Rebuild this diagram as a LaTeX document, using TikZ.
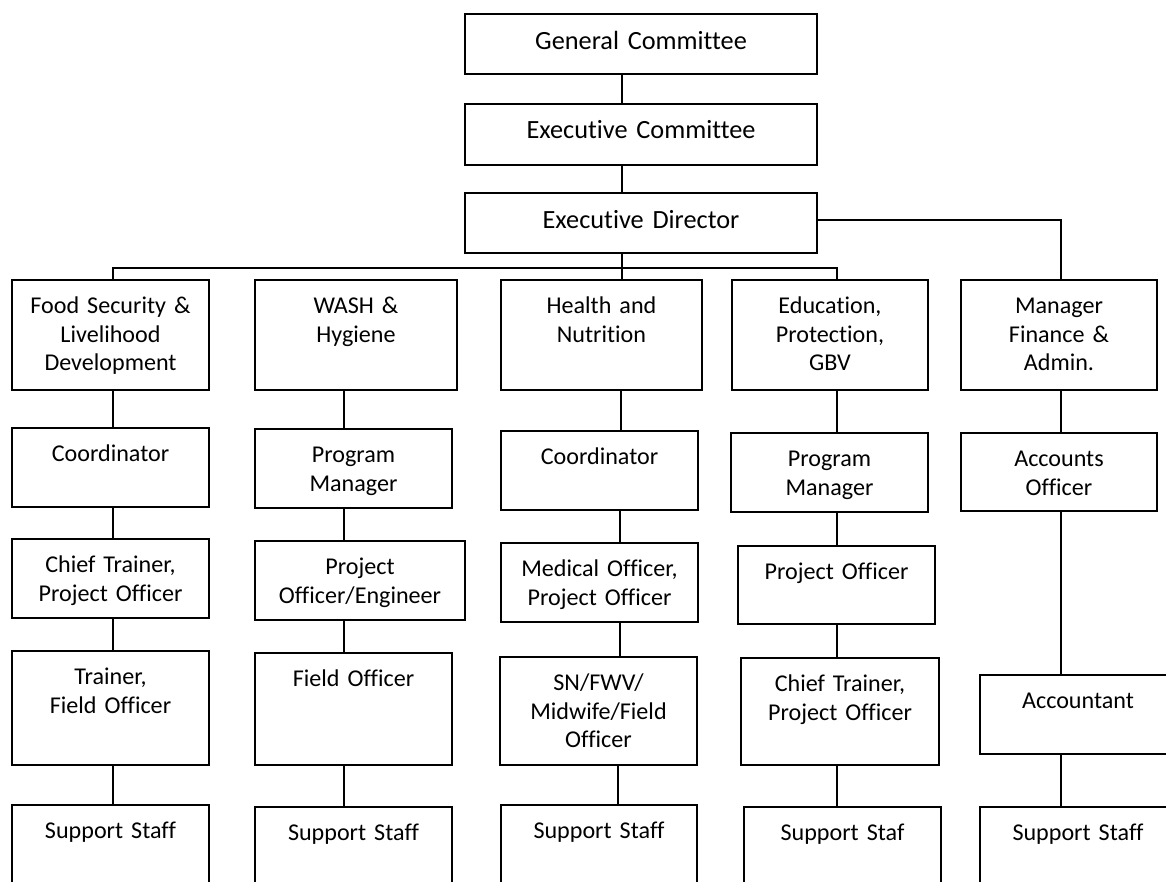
\documentclass[tikz,border=0pt]{standalone}
\usepackage{fontspec}
\setmainfont{Carlito}[Ligatures=NoCommon]
\begin{document}
\begin{tikzpicture}[x=1pt,y=-1pt,
  orgbox/.style={draw, line width=1.6pt, inner sep=0pt, anchor=north, align=center,
    text height=34pt, font=\fontsize{24.1}{28.3}\selectfont},
  topbox/.style={orgbox, text width=352pt, text height=36pt, text depth=24pt,
    font=\fontsize{26.3}{28.3}\selectfont},
  link/.style={line width=1.6pt}]
\useasboundingbox (0,0) rectangle (1166,882);
\clip (0,0) rectangle (1166,882);
% top chain
\node[topbox] (gc) at (641,13) {General Committee};
\node[topbox, text height=35pt, text depth=26pt] (ec) at (641,103) {Executive Committee};
\node[topbox] (ed) at (641,192) {Executive Director};
% column 1
\node[orgbox, text width=197pt, text depth=76pt] (fs) at (110.5,279) {Food Security \&\\Livelihood\\Development};
\node[orgbox, text width=197pt, text depth=45pt] (co1) at (110.5,427) {Coordinator};
\node[orgbox, text width=197pt, text depth=45pt] (ct1) at (110.5,538) {Chief Trainer,\\Project Officer};
\node[orgbox, text width=197pt, text depth=80pt] (tf1) at (110.5,650) {Trainer,\\Field Officer};
\node[orgbox, text width=197pt, text depth=80pt] (ss1) at (110.5,804) {Support Staff};
% column 2
\node[orgbox, text width=202pt, text depth=76pt] (wash) at (356,279) {WASH \&\\Hygiene};
\node[orgbox, text width=197pt, text depth=45pt] (pm2) at (353.5,428) {Program\\Manager};
\node[orgbox, text width=210pt, text depth=45pt] (poe) at (360,540) {Project\\Officer/Engineer};
\node[orgbox, text width=197pt, text depth=78pt] (fo2) at (353.5,652) {Field Officer};
\node[orgbox, text width=197pt, text depth=80pt] (ss2) at (353.5,806) {Support Staff};
% column 3
\node[orgbox, text width=201pt, text depth=76pt] (hn) at (601.5,279) {Health and\\Nutrition};
\node[orgbox, text width=197pt, text depth=45pt] (co3) at (599.5,430) {Coordinator};
\node[orgbox, text width=197pt, text depth=45pt] (mo3) at (599.5,542) {Medical Officer,\\Project Officer};
\node[orgbox, text width=197pt, text depth=74pt] (sn3) at (598.5,656) {SN/FWV/\\Midwife/Field\\Officer};
\node[orgbox, text width=196pt, text depth=80pt] (ss3) at (599,804) {Support Staff};
% column 4
\node[orgbox, text width=196pt, text depth=76pt] (epg) at (830,279) {Education,\\Protection,\\GBV};
\node[orgbox, text width=197pt, text depth=45pt] (pm4) at (829.5,432) {Program\\Manager};
\node[orgbox, text width=197pt, text depth=44pt] (po4) at (836.5,545) {Project Officer};
\node[orgbox, text width=198pt, text depth=73pt] (ct4) at (840,657) {Chief Trainer,\\Project Officer};
\node[orgbox, text width=197pt, text depth=80pt] (ss4) at (842.5,806) {Support Staf};
% column 5
\node[orgbox, text width=196pt, text depth=76pt] (mf) at (1059,279) {Manager\\Finance \&\\Admin.};
\node[orgbox, text width=196pt, text depth=44pt] (ao) at (1059,432) {Accounts\\Officer};
\node[orgbox, text width=196pt, text depth=45pt] (acc) at (1078,674) {Accountant};
\node[orgbox, text width=196pt, text depth=80pt] (ss5) at (1078,806) {Support Staff};
% connector guides
\coordinate (k1) at (113,268);
\coordinate (k2) at (344,0);
\coordinate (k3) at (622,268);
\coordinate (k4) at (837,268);
\coordinate (k5) at (1061,220);
% top links
\draw[link] (gc.south -| k3) -- (ec.north -| k3);
\draw[link] (ec.south -| k3) -- (ed.north -| k3);
\draw[link] (ed.south -| k3) -- (hn.north -| k3);
\draw[link] (fs.north -| k1) -- (k1) -- (k4) -- (epg.north -| k4);
\draw[link] (ed.east |- k5) -- (k5) -- (mf.north -| k5);
% column links
\draw[link] (fs.south -| k1) -- (co1.north -| k1);
\draw[link] (co1.south -| k1) -- (ct1.north -| k1);
\draw[link] (ct1.south -| k1) -- (tf1.north -| k1);
\draw[link] (tf1.south -| k1) -- (ss1.north -| k1);
\draw[link] (wash.south -| k2) -- (pm2.north -| k2);
\draw[link] (pm2.south -| k2) -- (poe.north -| k2);
\draw[link] (poe.south -| k2) -- (fo2.north -| k2);
\draw[link] (fo2.south -| k2) -- (ss2.north -| k2);
\coordinate (k3a) at (621,0);
\coordinate (k3b) at (620,0);
\coordinate (k3d) at (618,0);
\draw[link] (hn.south -| k3a) -- (co3.north -| k3a);
\draw[link] (co3.south -| k3b) -- (mo3.north -| k3b);
\draw[link] (mo3.south -| k3b) -- (sn3.north -| k3b);
\draw[link] (sn3.south -| k3d) -- (ss3.north -| k3d);
\draw[link] (epg.south -| k4) -- (pm4.north -| k4);
\draw[link] (pm4.south -| k4) -- (po4.north -| k4);
\draw[link] (po4.south -| k4) -- (ct4.north -| k4);
\draw[link] (ct4.south -| k4) -- (ss4.north -| k4);
\draw[link] (mf.south -| k5) -- (ao.north -| k5);
\draw[link] (ao.south -| k5) -- (acc.north -| k5);
\draw[link] (acc.south -| k5) -- (ss5.north -| k5);
\end{tikzpicture}
\end{document}
